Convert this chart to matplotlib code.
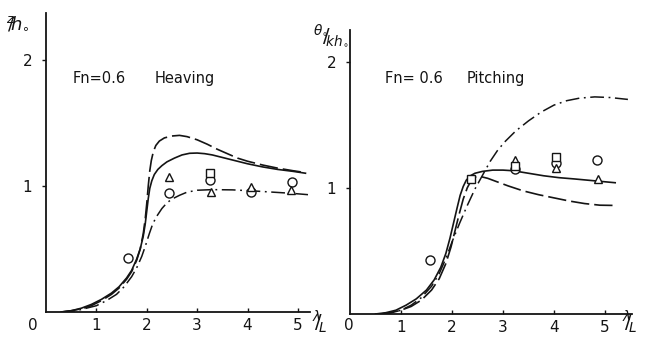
import matplotlib
matplotlib.use("Agg")
import matplotlib.pyplot as plt

plt.rcParams['font.family'] = ['DejaVu Sans']
plt.rcParams['mathtext.fontset'] = 'dejavusans'

# ---- heaving (left panel) ----
heave_solid_x = [0.3, 0.5, 0.7, 0.9, 1.1, 1.3, 1.45, 1.6, 1.7, 1.8, 1.87, 1.93, 1.97, 2.0, 2.03, 2.06, 2.1,
                 2.15, 2.22, 2.3, 2.4, 2.55, 2.7, 2.85, 3.0, 3.15, 3.3, 3.5, 3.75, 4.0, 4.3, 4.6, 4.9, 5.15]
heave_solid_y = [0.0, 0.01, 0.03, 0.06, 0.10, 0.15, 0.2, 0.27, 0.33, 0.42, 0.5, 0.6, 0.7, 0.8, 0.9, 0.98, 1.04,
                 1.09, 1.13, 1.16, 1.19, 1.22, 1.245, 1.258, 1.26, 1.255, 1.245, 1.225, 1.2, 1.175, 1.15, 1.13, 1.115, 1.10]

heave_dash_x = [0.3, 0.5, 0.7, 0.9, 1.1, 1.3, 1.45, 1.6, 1.7, 1.8, 1.87, 1.93, 1.97, 2.0, 2.03, 2.06, 2.09,
                2.13, 2.18, 2.25, 2.35, 2.5, 2.65, 2.8, 3.0, 3.2, 3.4, 3.6, 3.8, 4.0, 4.3, 4.6, 4.9, 5.15]
heave_dash_y = [0.0, 0.01, 0.025, 0.05, 0.09, 0.14, 0.19, 0.26, 0.32, 0.41, 0.5, 0.62, 0.74, 0.86, 1.0, 1.12, 1.2,
                1.27, 1.32, 1.355, 1.38, 1.395, 1.40, 1.39, 1.365, 1.33, 1.29, 1.255, 1.22, 1.195, 1.165, 1.14, 1.12, 1.105]

heave_dd_x = [0.3, 0.6, 0.8, 1.0, 1.2, 1.4, 1.55, 1.7, 1.8, 1.9, 1.97, 2.05, 2.12, 2.2, 2.3, 2.4, 2.5,
              2.65, 2.8, 3.0, 3.3, 3.7, 4.1, 4.5, 4.9, 5.2]
heave_dd_y = [0.0, 0.01, 0.03, 0.05, 0.09, 0.14, 0.2, 0.28, 0.35, 0.44, 0.52, 0.62, 0.7, 0.76, 0.82, 0.865, 0.895,
              0.925, 0.95, 0.965, 0.97, 0.968, 0.96, 0.95, 0.94, 0.93]

heave_circ_x = [1.62, 2.44, 3.26, 4.07, 4.88]
heave_circ_y = [0.43, 0.94, 1.05, 0.95, 1.03]
heave_tri_x = [2.44, 3.28, 4.07, 4.86]
heave_tri_y = [1.07, 0.95, 0.99, 0.97]
heave_sq_x = [3.26]
heave_sq_y = [1.10]

# ---- pitching (right panel) ----
pitch_solid_x = [0.5, 0.7, 0.9, 1.1, 1.3, 1.5, 1.65, 1.78, 1.88, 1.96, 2.03, 2.1, 2.16, 2.22, 2.28, 2.36,
                 2.45, 2.6, 2.8, 3.0, 3.2, 3.5, 3.8, 4.1, 4.4, 4.8, 5.2]
pitch_solid_y = [0.0, 0.01, 0.03, 0.07, 0.12, 0.19, 0.27, 0.37, 0.48, 0.6, 0.72, 0.84, 0.94, 1.01, 1.06, 1.095,
                 1.115, 1.13, 1.14, 1.14, 1.135, 1.115, 1.095, 1.08, 1.07, 1.055, 1.04]

pitch_dash_x = [0.6, 0.8, 1.0, 1.2, 1.4, 1.6, 1.75, 1.88, 1.98, 2.06, 2.14, 2.22, 2.3, 2.38, 2.46, 2.55,
                2.7, 2.9, 3.1, 3.4, 3.7, 4.0, 4.3, 4.6, 4.9, 5.2]
pitch_dash_y = [0.0, 0.01, 0.03, 0.06, 0.11, 0.19, 0.28, 0.4, 0.53, 0.66, 0.79, 0.91, 1.0, 1.06, 1.085, 1.09,
                1.075, 1.045, 1.015, 0.975, 0.945, 0.92, 0.895, 0.875, 0.862, 0.86]

pitch_dd_x = [0.6, 0.8, 1.0, 1.2, 1.4, 1.6, 1.75, 1.88, 2.0, 2.15, 2.3, 2.45, 2.6, 2.75, 2.9, 3.05,
              3.25, 3.5, 3.75, 4.0, 4.25, 4.5, 4.8, 5.1, 5.45]
pitch_dd_y = [0.0, 0.01, 0.03, 0.07, 0.13, 0.22, 0.32, 0.44, 0.57, 0.72, 0.86, 0.99, 1.1, 1.21, 1.3, 1.37,
              1.45, 1.53, 1.6, 1.655, 1.69, 1.71, 1.72, 1.715, 1.70]

pitch_circ_x = [1.57, 3.24, 4.04, 4.84]
pitch_circ_y = [0.43, 1.15, 1.20, 1.22]
pitch_tri_x = [3.24, 4.04, 4.86]
pitch_tri_y = [1.22, 1.16, 1.07]
pitch_sq_x = [2.37, 3.24, 4.04]
pitch_sq_y = [1.07, 1.17, 1.24]

ink = '#141414'
dash = (0, (11, 3))
dashdot = (0, (9, 3, 1.2, 3))

fig = plt.figure(figsize=(6.55, 3.38), dpi=100)
ax1 = fig.add_axes([46/655, 26/338, 264/655, 299/338])
ax2 = fig.add_axes([350/655, 24/338, 282/655, 284/338])


def style(ax, xmax, ymax):
    ax.set_xlim(0, xmax)
    ax.set_ylim(0, ymax)
    for s in ['top', 'right']:
        ax.spines[s].set_visible(False)
    for s in ['left', 'bottom']:
        ax.spines[s].set_linewidth(1.3)
        ax.spines[s].set_color(ink)
    ax.set_xticks([1, 2, 3, 4, 5])
    ax.set_yticks([1, 2])
    ax.tick_params(axis='x', direction='in', length=3, width=1, colors=ink,
                   labelsize=11, pad=4)
    ax.tick_params(axis='y', direction='out', length=3, width=1, colors=ink,
                   labelsize=11, pad=7)
    ax.patch.set_alpha(0)


def draw(ax, sx, sy, dx, dy, ddx, ddy, cx, cy, tx, ty, qx, qy):
    ax.plot(sx, sy, color=ink, lw=1.2, solid_joinstyle='round')
    ax.plot(dx, dy, color=ink, lw=1.2, linestyle=dash)
    ax.plot(ddx, ddy, color=ink, lw=1.1, linestyle=dashdot)
    mk = dict(linestyle='none', mfc='white', mec=ink, mew=1.0, zorder=5)
    ax.plot(cx, cy, marker='o', ms=6.5, **mk)
    ax.plot(tx, ty, marker='^', ms=6, **mk)
    ax.plot(qx, qy, marker='s', ms=5.5, **mk)


def put(px, py, s, fs, va='baseline'):
    # place text by pixel position (from top-left) in the 655x338 figure
    fig.text(px/655, 1 - py/338, s, fontsize=fs, color=ink, va=va)


style(ax1, 5.24, 2.37)
style(ax2, 5.53, 2.25)
draw(ax1, heave_solid_x, heave_solid_y, heave_dash_x, heave_dash_y,
     heave_dd_x, heave_dd_y, heave_circ_x, heave_circ_y,
     heave_tri_x, heave_tri_y, heave_sq_x, heave_sq_y)
draw(ax2, pitch_solid_x, pitch_solid_y, pitch_dash_x, pitch_dash_y,
     pitch_dd_x, pitch_dd_y, pitch_circ_x, pitch_circ_y,
     pitch_tri_x, pitch_tri_y, pitch_sq_x, pitch_sq_y)

# panel captions
put(73, 83, "Fn=0.6", 10.5)
put(155, 83, "Heaving", 10.5)
put(385, 83, "Fn= 0.6", 10.5)
put(467, 83, "Pitching", 10.5)

# origin labels
fig.text(33/655, 1 - 325/338, "0", fontsize=11, color=ink, ha='center', va='center')
fig.text(349/655, 1 - 325/338, "0", fontsize=11, color=ink, ha='center', va='center')

# axis labels
put(6, 29, r"$^{z}\!\!/\!h_{\circ}$", 13)
put(313, 42, r"$^{\theta_{\circ}}\!\!/\!_{kh_{\circ}}$", 14)
put(312, 335, r"$^{\lambda}\!\!/\!_{L}$", 14, va='bottom')
put(622, 335, r"$^{\lambda}\!\!/\!_{L}$", 14, va='bottom')

fig.savefig("out.png", dpi=100, facecolor='white')
